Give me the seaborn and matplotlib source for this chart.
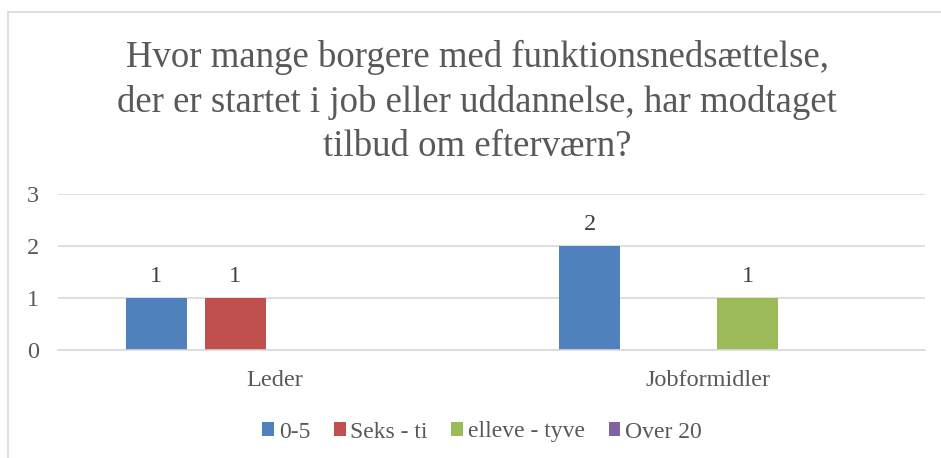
import matplotlib
matplotlib.use("Agg")
import matplotlib.pyplot as plt
import seaborn as sns
import pandas as pd
from matplotlib.lines import Line2D
from matplotlib.patches import Patch

categories = ["Leder", "Jobformidler"]
series = ["0-5", "Seks - ti", "elleve - tyve", "Over 20"]
values_0_5 = [1, 2]
values_seks_ti = [1, 0]
values_elleve_tyve = [0, 1]
values_over_20 = [0, 0]
colors = ["#4F81BD", "#C0504D", "#9BBB59", "#8064A2"]
title = "Hvor mange borgere med funktionsnedsættelse,\nder er startet i job eller uddannelse, har modtaget\ntilbud om efterværn?"

rows = []
for s, vals in zip(series, [values_0_5, values_seks_ti, values_elleve_tyve, values_over_20]):
    for c, v in zip(categories, vals):
        rows.append({"kategori": c, "serie": s, "antal": v})
df = pd.DataFrame(rows)

sns.set_theme(style="white")
plt.rcParams["font.family"] = "serif"
plt.rcParams["font.serif"] = ["Liberation Serif", "Times New Roman", "DejaVu Serif"]
txt = "#595959"

fig = plt.figure(figsize=(9.41, 4.58), dpi=100)
ax = fig.add_axes([58/941, 1-350/458, (925-58)/941, (350-194)/458])

sns.barplot(data=df, x="kategori", y="antal", hue="serie", order=categories,
            hue_order=series, palette=colors, width=0.729, gap=0.228,
            saturation=1, ax=ax, legend=False, edgecolor="none", linewidth=0)

ax.set_ylim(0, 3)
ax.set_xlim(-0.5, 1.5)
ax.set_yticks([0, 1, 2, 3])
ax.yaxis.grid(True, color="#D9D9D9", linewidth=1.2)
ax.set_axisbelow(True)
for sp in ["top", "right", "left"]:
    ax.spines[sp].set_visible(False)
ax.spines["bottom"].set_color("#D9D9D9")
ax.spines["bottom"].set_linewidth(1.2)
ax.tick_params(axis="both", length=0, labelsize=17.5, colors=txt)
ax.tick_params(axis="y", pad=13.5)
ax.tick_params(axis="x", pad=14.5)
ax.set_xlabel("")
ax.set_ylabel("")

for cont in ax.containers:
    labels = [f"{int(b.get_height())}" if b.get_height() > 0 else "" for b in cont]
    ax.bar_label(cont, labels=labels, padding=8, fontsize=17.5, color="#404040")

fig.text(477/941, 1-102/458, title, ha="center", va="center", fontsize=26.5,
         color=txt, linespacing=1.38)

handles = [Patch(facecolor=c, edgecolor="none") for c in colors]
fig.legend(handles, series, loc="center", bbox_to_anchor=(482/941, 1-432/458),
           ncol=4, frameon=False, fontsize=17, handlelength=0.5, handleheight=0.5,
           handletextpad=0.2, columnspacing=1.0, labelcolor=txt)

fig.add_artist(Line2D([8/941, 1], [1-12/458, 1-12/458], color="#D9D9D9", linewidth=1.2,
                      transform=fig.transFigure))
fig.add_artist(Line2D([8/941, 8/941], [0, 1-12/458], color="#D9D9D9", linewidth=1.2,
                      transform=fig.transFigure))

fig.savefig("out.png", dpi=100)
